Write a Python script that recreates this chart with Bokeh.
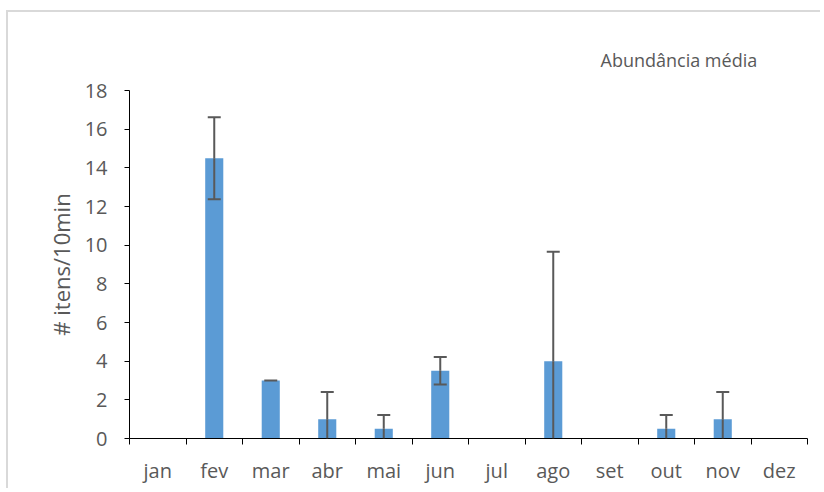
from bokeh.plotting import figure
from bokeh.models import (FactorRange, Range1d, LinearAxis, FixedTicker,
                          Whisker, TeeHead, ColumnDataSource)
from bokeh.embed import file_html
from bokeh.resources import INLINE

months = ["jan", "fev", "mar", "abr", "mai", "jun", "jul", "ago", "set", "out", "nov", "dez"]
means = [0, 14.5, 3.0, 1.0, 0.5, 3.5, 0, 4.0, 0, 0.5, 1.0, 0]
errors = [0, 2.12, 0.0, 1.41, 0.71, 0.71, 0, 5.66, 0, 0.71, 1.41, 0]
y_ticks = [0, 2, 4, 6, 8, 10, 12, 14, 16, 18]
title_text = "Abundância média"
y_label = "# itens/10min"

GRAY = "#595959"
FONT = "Open Sans"

p = figure(x_range=FactorRange(*months), y_range=Range1d(0, 18),
           width=814, height=478, output_backend="svg", toolbar_location=None,
           x_axis_location=None, min_border_left=121, min_border_right=15,
           min_border_top=78, min_border_bottom=52)
p.styles = {"margin-left": "6px", "margin-top": "10px",
            "border-left": "2px solid #d9d9d9", "border-top": "2px solid #d9d9d9"}
p.outline_line_color = None
p.xgrid.visible = False
p.ygrid.visible = False

# title
p.title.text = title_text
p.title.align = "left"
p.title.offset = 471
p.title.standoff = 38
p.title.text_font = FONT
p.title.text_font_size = "18px"
p.title.text_font_style = "normal"
p.title.text_color = GRAY

# bars
bars = [(m, v) for m, v in zip(months, means) if v > 0]
p.vbar(x=[b[0] for b in bars], top=[b[1] for b in bars], width=0.32,
       fill_color="#5B9BD5", line_color=None)

# error bars
rows = [(m, v, e) for m, v, e in zip(months, means, errors) if v > 0]
up = ColumnDataSource(dict(x=[r[0] for r in rows], lo=[r[1] for r in rows],
                           hi=[r[1] + r[2] for r in rows]))
p.add_layout(Whisker(source=up, base="x", lower="lo", upper="hi", dimension="height",
                     level="annotation", line_color=GRAY, line_width=2, lower_head=None,
                     upper_head=TeeHead(size=13, line_color=GRAY, line_width=2)))
full = [r for r in rows if r[1] - r[2] > 0 and r[2] > 0]
clip = [r for r in rows if r[1] - r[2] <= 0]
lo_full = ColumnDataSource(dict(x=[r[0] for r in full], lo=[r[1] - r[2] for r in full],
                                hi=[r[1] for r in full]))
p.add_layout(Whisker(source=lo_full, base="x", lower="lo", upper="hi", dimension="height",
                     level="annotation", line_color=GRAY, line_width=2, upper_head=None,
                     lower_head=TeeHead(size=13, line_color=GRAY, line_width=2)))
lo_clip = ColumnDataSource(dict(x=[r[0] for r in clip], lo=[0 for r in clip],
                                hi=[r[1] for r in clip]))
p.add_layout(Whisker(source=lo_clip, base="x", lower="lo", upper="hi", dimension="height",
                     level="annotation", line_color=GRAY, line_width=2,
                     upper_head=None, lower_head=None))

# y axis
ya = p.yaxis[0]
ya.ticker = FixedTicker(ticks=y_ticks)
ya.minor_tick_line_color = None
ya.major_tick_in = 0
ya.major_tick_out = 5
ya.axis_line_color = "black"
ya.major_tick_line_color = "black"
ya.major_label_text_font = FONT
ya.major_label_text_font_size = "20px"
ya.major_label_text_color = GRAY
ya.major_label_standoff = 17
ya.axis_label = y_label
ya.axis_label_text_font = FONT
ya.axis_label_text_font_size = "22px"
ya.axis_label_text_font_style = "normal"
ya.axis_label_text_color = GRAY
ya.axis_label_standoff = 6

# x axis: labels at category centres, minor ticks at category boundaries
centres = [i + 0.5 for i in range(len(months))]
bounds = list(range(len(months) + 1))
xa = LinearAxis(ticker=FixedTicker(ticks=centres, minor_ticks=bounds),
                major_label_overrides={c: m for c, m in zip(centres, months)},
                major_tick_line_color=None, major_tick_in=0, major_tick_out=6,
                minor_tick_line_color="black", minor_tick_in=0, minor_tick_out=6,
                axis_line_color="black", major_label_text_font=FONT,
                major_label_text_font_size="20px", major_label_text_color=GRAY,
                major_label_standoff=12)
p.add_layout(xa, "below")

open("out.html", "w").write(file_html(p, INLINE))
